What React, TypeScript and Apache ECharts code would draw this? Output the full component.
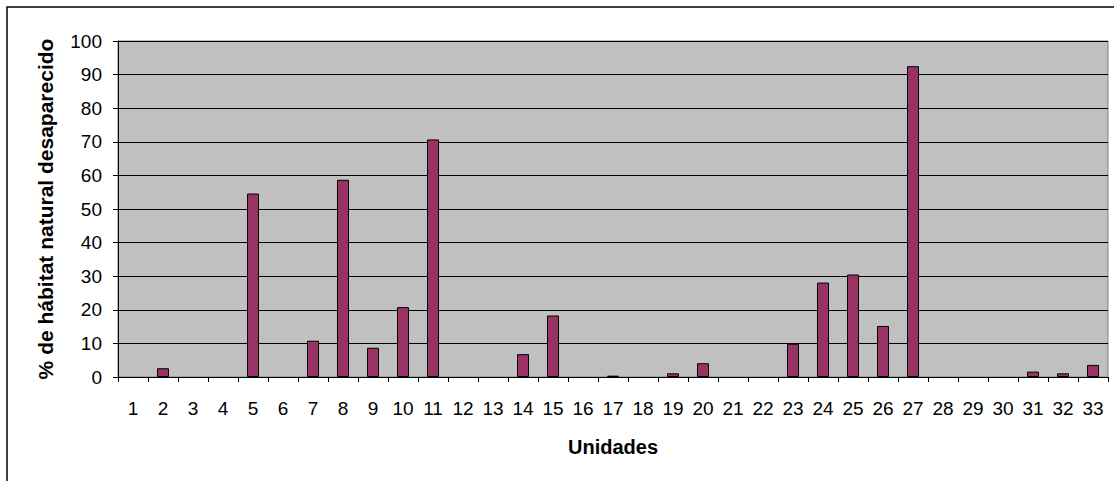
import React, { useEffect, useRef } from "react";
import * as echarts from "echarts";

const categories: string[] = [
  "1", "2", "3", "4", "5", "6", "7", "8", "9", "10", "11", "12", "13", "14", "15", "16", "17",
  "18", "19", "20", "21", "22", "23", "24", "25", "26", "27", "28", "29", "30", "31", "32", "33",
];
const values: number[] = [
  0, 2.6, 0, 0, 54.6, 0, 10.8, 58.7, 8.7, 20.8, 70.7, 0, 0, 6.8, 18.3, 0, 0.4,
  0, 1.1, 4.1, 0, 0, 9.9, 28.1, 30.5, 15.2, 92.5, 0, 0, 0, 1.6, 1.1, 3.6,
];
const yTitle = "% de hábitat natural desaparecido";
const xTitle = "Unidades";

export default function App() {
  const ref = useRef<HTMLDivElement>(null);
  useEffect(() => {
    if (!ref.current) return;
    const chart = echarts.init(ref.current, null, { renderer: "svg" });
    const font = "Arial, 'Liberation Sans', sans-serif";
    chart.setOption({
      animation: false,
      backgroundColor: "#ffffff",
      textStyle: { fontFamily: font },
      graphic: [
        {
          type: "rect",
          shape: { x: 7, y: 7, width: 1130, height: 500 },
          style: { fill: "none", stroke: "#000000", lineWidth: 1.5 },
          silent: true,
          z: 100,
        },
      ],
      grid: {
        left: 118,
        top: 41,
        width: 990,
        height: 336,
        show: true,
        backgroundColor: "#C0C0C0",
        borderColor: "#808080",
        borderWidth: 1,
      },
      xAxis: {
        type: "category",
        data: categories,
        name: xTitle,
        nameLocation: "middle",
        nameGap: 60,
        nameTextStyle: { fontFamily: font, fontSize: 20, fontWeight: "bold", color: "#000" },
        axisLine: { show: true, lineStyle: { color: "#000", width: 1 } },
        axisTick: { show: true, length: 5, lineStyle: { color: "#000" } },
        axisLabel: { color: "#000", fontSize: 19, fontFamily: font, margin: 22, interval: 0 },
      },
      yAxis: {
        type: "value",
        min: 0,
        max: 100,
        interval: 10,
        name: yTitle,
        nameLocation: "middle",
        nameGap: 62,
        nameTextStyle: { fontFamily: font, fontSize: 21, fontWeight: "bold", color: "#000" },
        axisLine: { show: true, lineStyle: { color: "#000", width: 1 } },
        axisTick: { show: true, length: 5, lineStyle: { color: "#000" } },
        axisLabel: { color: "#000", fontSize: 19, fontFamily: font, margin: 16 },
        splitLine: { show: true, lineStyle: { color: "#000", width: 1 } },
      },
      series: [
        {
          type: "bar",
          data: values.map((v) => ({
            value: v,
            itemStyle: v === 0 ? { borderWidth: 0 } : undefined,
          })),
          barWidth: 12,
          itemStyle: { color: "#993366", borderColor: "#000", borderWidth: 1 },
        },
      ],
    });
    return () => chart.dispose();
  }, []);
  return (
    <div
      ref={ref}
      style={{ position: "fixed", left: 0, top: 0, width: 1114, height: 481 }}
    />
  );
}
